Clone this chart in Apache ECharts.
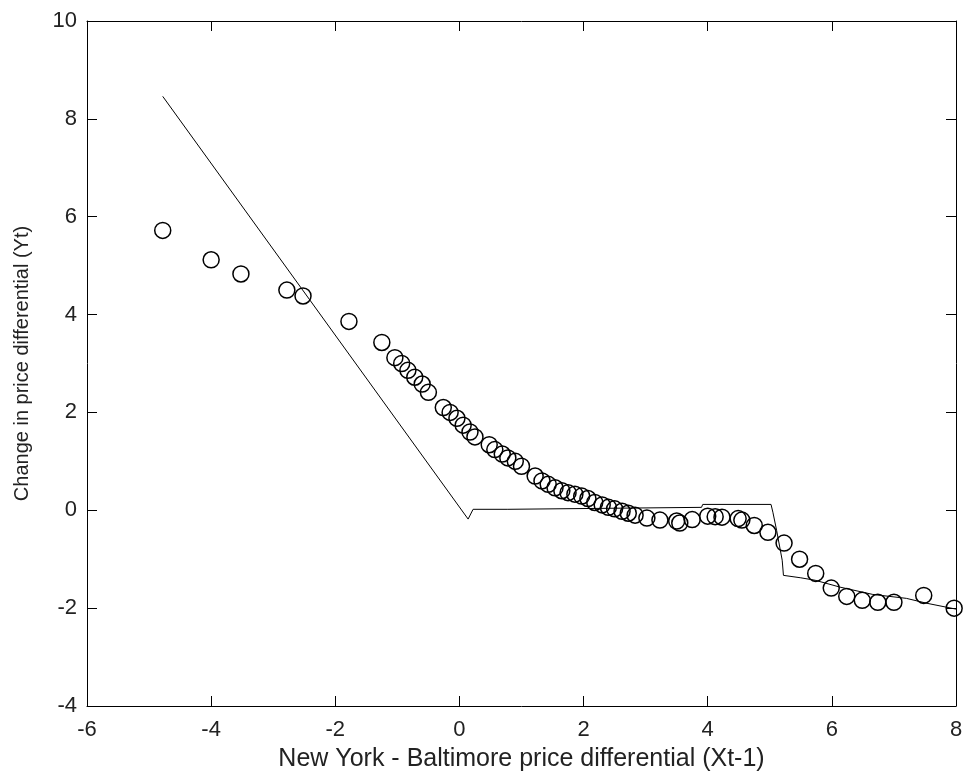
<!DOCTYPE html>
<html>
<head>
<meta charset="utf-8">
<script src="https://cdn.jsdelivr.net/npm/echarts@6/dist/echarts.min.js"></script>
<style>
  html, body { margin: 0; padding: 0; background: #fff; }
  #chart { width: 966px; height: 781px; }
</style>
</head>
<body>
<div id="chart"></div>
<script>
// observed points (circles)
const obsX = [-4.78, -4.0, -3.52, -2.78, -2.52, -1.78, -1.25, -1.04, -0.93, -0.83, -0.72, -0.6, -0.5,
  -0.26, -0.15, -0.04, 0.06, 0.17, 0.25, 0.48, 0.57, 0.69, 0.78, 0.9, 1.0, 1.22, 1.33, 1.43, 1.54,
  1.65, 1.75, 1.86, 1.97, 2.07, 2.18, 2.3, 2.4, 2.5, 2.62, 2.72, 2.83, 3.02, 3.23, 3.5, 3.55, 3.75,
  4.0, 4.12, 4.23, 4.49, 4.55, 4.75, 4.97, 5.23, 5.48, 5.74, 5.99, 6.24, 6.49, 6.74, 7.0, 7.48, 7.97];
const obsY = [5.72, 5.12, 4.83, 4.5, 4.38, 3.86, 3.43, 3.12, 3.0, 2.86, 2.72, 2.58, 2.41,
  2.1, 2.0, 1.88, 1.74, 1.6, 1.5, 1.34, 1.24, 1.15, 1.07, 1.0, 0.9, 0.7, 0.6, 0.53, 0.46,
  0.4, 0.36, 0.33, 0.29, 0.24, 0.16, 0.11, 0.06, 0.03, -0.02, -0.06, -0.1, -0.16, -0.2, -0.22, -0.26, -0.19,
  -0.12, -0.13, -0.14, -0.17, -0.2, -0.31, -0.45, -0.67, -1.0, -1.29, -1.59, -1.76, -1.84, -1.88, -1.88, -1.74, -2.0];

// fitted curve (line)
const fitX = [-4.78, 0.14, 0.22, 0.78, 0.8, 3.9, 3.92, 5.02, 5.05, 5.11, 5.2, 5.22, 5.5, 5.73, 6.13, 6.66, 7.2, 7.53, 8.0];
const fitY = [8.46, -0.18, 0.02, 0.02, 0.06, 0.06, 0.12, 0.12, -0.04, -0.41, -1.02, -1.33, -1.38, -1.43, -1.57, -1.72, -1.8, -1.9, -2.02];

const xTicks = [-6, -4, -2, 0, 2, 4, 6, 8];
const yTicks = [-4, -2, 0, 2, 4, 6, 8, 10];

const zip = (xs, ys) => xs.map((x, i) => [x, ys[i]]);

const font = "'Liberation Sans', Arial, sans-serif";
const ink = "#000";
const textInk = "#222";

const baseAxis = {
  axisLine: { show: true, onZero: false, lineStyle: { color: ink, width: 1 } },
  axisTick: { show: true, inside: true, length: 10, lineStyle: { color: ink, width: 1 } },
  splitLine: { show: false },
};

const chart = echarts.init(document.getElementById("chart"));
chart.setOption({
  backgroundColor: "#fff",
  animation: false,
  grid: { left: 87, top: 21, right: 10, bottom: 75 },
  xAxis: [
    {
      ...baseAxis, type: "value", position: "bottom",
      min: xTicks[0], max: xTicks[xTicks.length - 1], interval: 2,
      axisLabel: { color: textInk, fontFamily: font, fontSize: 22, margin: 13 },
      name: "New York - Baltimore price differential (Xt-1)",
      nameLocation: "middle", nameGap: 41,
      nameTextStyle: { color: textInk, fontFamily: font, fontSize: 25 },
    },
    {
      ...baseAxis, type: "value", position: "top",
      min: xTicks[0], max: xTicks[xTicks.length - 1], interval: 2,
      axisLabel: { show: false },
    },
  ],
  yAxis: [
    {
      ...baseAxis, type: "value", position: "left",
      min: yTicks[0], max: yTicks[yTicks.length - 1], interval: 2,
      axisLabel: { color: textInk, fontFamily: font, fontSize: 22, margin: 10 },
      name: "Change in price differential (Yt)",
      nameLocation: "middle", nameGap: 55,
      nameTextStyle: { color: textInk, fontFamily: font, fontSize: 20 },
    },
    {
      ...baseAxis, type: "value", position: "right",
      min: yTicks[0], max: yTicks[yTicks.length - 1], interval: 2,
      axisLabel: { show: false },
    },
  ],
  series: [
    {
      type: "line",
      data: zip(fitX, fitY),
      showSymbol: false,
      lineStyle: { color: ink, width: 1 },
      z: 2,
    },
    {
      type: "scatter",
      data: zip(obsX, obsY),
      symbol: "circle",
      symbolSize: 16,
      itemStyle: { color: "rgba(0,0,0,0)", borderColor: ink, borderWidth: 1.5, opacity: 1 },
      z: 3,
    },
  ],
});
</script>
</body>
</html>
